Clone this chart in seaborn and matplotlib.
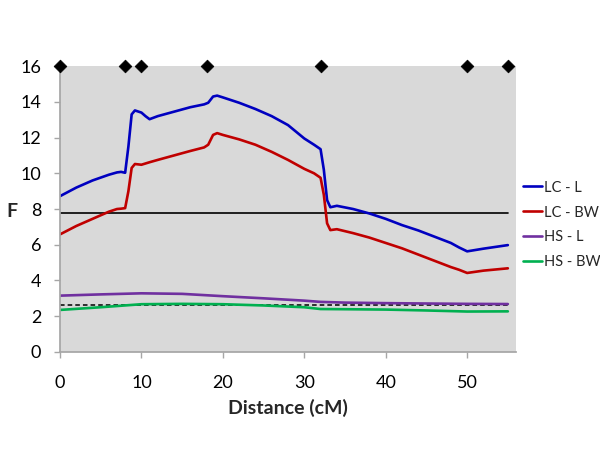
import numpy as np
import pandas as pd
import matplotlib
matplotlib.use("Agg")
import matplotlib.pyplot as plt
import seaborn as sns

# LC family: linkage scan positions (cM) and F values
dist_lc = [0, 2, 4, 6, 7, 7.5, 8, 8.4, 8.8, 9.2, 10, 10.5, 11, 12, 14, 16, 17.7, 18.2,
           18.8, 19.3, 20, 22, 24, 26, 28, 30, 31.2, 32, 32.4, 32.8, 33.2, 34, 36, 38,
           40, 42, 44, 46, 48, 49, 50, 52, 55]
lc_l = [8.72, 9.2, 9.6, 9.92, 10.05, 10.08, 10.03, 11.5, 13.3, 13.52, 13.4, 13.2, 13.03,
        13.2, 13.45, 13.7, 13.86, 13.95, 14.3, 14.35, 14.25, 13.95, 13.6, 13.2, 12.7,
        11.95, 11.6, 11.35, 10.2, 8.5, 8.1, 8.18, 8.0, 7.75, 7.45, 7.1, 6.8, 6.45, 6.1,
        5.85, 5.63, 5.78, 5.98]
lc_bw = [6.58, 7.05, 7.45, 7.85, 8.0, 8.02, 8.05, 9.0, 10.3, 10.52, 10.48, 10.55, 10.62,
         10.75, 11.0, 11.25, 11.45, 11.6, 12.15, 12.25, 12.15, 11.9, 11.6, 11.2, 10.75,
         10.25, 10.0, 9.75, 8.8, 7.2, 6.82, 6.87, 6.65, 6.4, 6.1, 5.8, 5.45, 5.1, 4.75,
         4.6, 4.42, 4.55, 4.68]

# HS family
dist_hs = [0, 5, 10, 15, 20, 25, 30, 32, 35, 40, 45, 50, 55]
hs_l = [3.15, 3.22, 3.28, 3.25, 3.12, 3.0, 2.87, 2.8, 2.76, 2.73, 2.71, 2.69, 2.68]
hs_bw = [2.35, 2.5, 2.67, 2.69, 2.67, 2.6, 2.5, 2.4, 2.39, 2.37, 2.32, 2.26, 2.27]

# markers along the top and significance thresholds
marker_pos = [0, 8, 10, 18, 32, 50, 55]
marker_f = 16
thr_lc = 7.8
thr_hs = 2.62

series = ["LC - L", "LC - BW", "HS - L", "HS - BW"]
colors = ["#0000C0", "#C00000", "#7030A0", "#00B050"]

df = pd.concat([
    pd.DataFrame({"dist": dist_lc, "F": lc_l, "trait": series[0]}),
    pd.DataFrame({"dist": dist_lc, "F": lc_bw, "trait": series[1]}),
    pd.DataFrame({"dist": dist_hs, "F": hs_l, "trait": series[2]}),
    pd.DataFrame({"dist": dist_hs, "F": hs_bw, "trait": series[3]}),
])
df_mark = pd.DataFrame({"dist": marker_pos, "F": marker_f})

sns.set_theme(style="ticks", rc={"axes.facecolor": "#D9D9D9",
                                 "axes.edgecolor": "#A6A6A6",
                                 "xtick.color": "#A6A6A6",
                                 "ytick.color": "#A6A6A6"})
plt.rcParams["font.family"] = ["Lato", "DejaVu Sans"]

fig = plt.figure(figsize=(6, 4.5), dpi=100)
ax = fig.add_axes([0.1, 0.218, 0.76, 0.635])

# thresholds
ax.plot([0, 55], [thr_lc, thr_lc], color="black", lw=1.2)
ax.plot([0, 55], [thr_hs, thr_hs], color="black", lw=1.1, ls=(0, (3, 2)))

sns.lineplot(ax=ax, data=df, x="dist", y="F", hue="trait", hue_order=series,
             palette=dict(zip(series, colors)), sort=False, estimator=None,
             linewidth=1.9)
sns.scatterplot(ax=ax, data=df_mark, x="dist", y="F", marker="D", color="black",
                s=42, clip_on=False, zorder=5, edgecolor="black")

ax.set_xlim(0, 56)
ax.set_ylim(0, 16)
ax.set_xticks([0, 10, 20, 30, 40, 50])
ax.set_yticks(range(0, 17, 2))
ax.tick_params(axis="both", length=4.5, width=1, labelsize=13, labelcolor="black")
ax.tick_params(axis="x", pad=12)
ax.tick_params(axis="y", pad=9)
for s in ["top", "right"]:
    ax.spines[s].set_visible(False)

ax.set_xlabel("Distance (cM)", fontsize=14, fontweight="bold", labelpad=6)
ax.set_ylabel("F", fontsize=14, fontweight="bold", rotation=0, va="center")
ax.yaxis.set_label_coords(-0.105, 0.49)

handles, labels = ax.get_legend_handles_labels()
ax.get_legend().remove()
fig.legend(handles, labels, loc="center left", bbox_to_anchor=(0.872, 0.50),
           frameon=False, fontsize=10.5, handlelength=1.3, handletextpad=0.1,
           labelspacing=0.75, borderaxespad=0, borderpad=0)

fig.savefig("out.png", dpi=100)
